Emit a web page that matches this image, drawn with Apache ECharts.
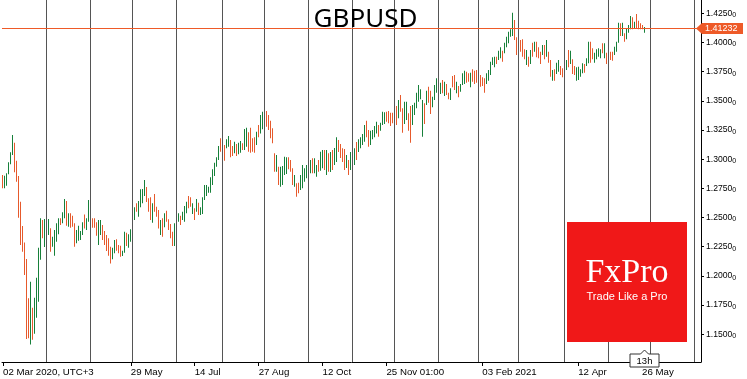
<!DOCTYPE html>
<html><head><meta charset="utf-8">
<script src="https://cdn.jsdelivr.net/npm/echarts@6/dist/echarts.min.js"></script>
<style>html,body{margin:0;padding:0;background:#fff}#c{width:747px;height:379px}</style>
</head><body><div id="c"></div>
<script>
// ---------------- DATA ----------------
const symbol = 'GBPUSD';
const firstDate = '2020-03-02';
const totalSlots = 350;               // trading-day slots incl. empty future space
const holidays = ['2020-12-25', '2021-01-01'];
const lastPrice = 1.41232;
const currentBarLabel = '13h';

const highs = [
1.2864,1.2858,1.2879,1.2973,1.3059,1.3207,1.3141,1.2987,1.2856,1.2635,
1.2427,1.2287,1.2144,1.1808,1.1950,1.1727,1.1813,1.1984,1.2241,1.2493,
1.2479,1.2487,1.2462,1.2487,1.2408,1.2336,1.2393,1.2450,1.2493,1.2493,
1.2545,1.2659,1.2641,1.2536,1.2536,1.2516,1.2450,1.2393,1.2430,1.2384,
1.2459,1.2527,1.2493,1.2650,1.2607,1.2493,1.2493,1.2459,1.2479,1.2479,
1.2436,1.2384,1.2350,1.2322,1.2250,1.2241,1.2307,1.2313,1.2264,1.2258,
1.2215,1.2378,1.2370,1.2356,1.2399,1.2521,1.2587,1.2622,1.2641,1.2742,
1.2744,1.2821,1.2761,1.2665,1.2673,1.2622,1.2701,1.2593,1.2564,1.2479,
1.2493,1.2536,1.2558,1.2485,1.2444,1.2378,1.2450,1.2480,1.2536,1.2516,
1.2550,1.2599,1.2635,1.2684,1.2673,1.2622,1.2579,1.2659,1.2627,1.2587,
1.2673,1.2779,1.2779,1.2764,1.2845,1.2913,1.2970,1.3016,1.3113,1.3179,
1.3121,1.3121,1.3170,1.3198,1.3164,1.3113,1.3150,1.3130,1.3141,1.3156,
1.3136,1.3259,1.3270,1.3230,1.3270,1.3179,1.3187,1.3235,1.3293,1.3378,
1.3407,1.3490,1.3413,1.3378,1.3330,1.3264,1.3050,1.3036,1.2935,1.2935,
1.2941,1.3021,1.3016,1.3016,1.2993,1.2922,1.2864,1.2793,1.2798,1.2864,
1.2950,1.2922,1.2950,1.2980,1.2993,1.3007,1.3007,1.2950,1.2993,1.3064,
1.3079,1.3079,1.3079,1.3050,1.3061,1.3079,1.3096,1.3187,1.3164,1.3130,
1.3093,1.3087,1.3036,1.2993,1.3061,1.2970,1.3093,1.3147,1.3170,1.3187,
1.3216,1.3293,1.3330,1.3250,1.3244,1.3250,1.3284,1.3321,1.3293,1.3313,
1.3407,1.3402,1.3407,1.3413,1.3398,1.3398,1.3440,1.3456,1.3507,1.3550,
1.3436,1.3493,1.3493,1.3393,1.3456,1.3464,1.3484,1.3570,1.3636,1.3599,
1.3507,1.3479,1.3587,1.3621,1.3587,1.3535,1.3636,1.3693,1.3713,1.3655,
1.3678,1.3664,1.3644,1.3570,1.3607,1.3713,1.3721,1.3664,1.3627,1.3644,
1.3736,1.3758,1.3750,1.3736,1.3741,1.3770,1.3758,1.3764,1.3747,1.3721,
1.3701,1.3693,1.3736,1.3764,1.3835,1.3873,1.3878,1.3878,1.3930,1.3959,
1.3930,1.3998,1.4050,1.4092,1.4113,1.4255,1.4193,1.4044,1.3990,1.4021,
1.4027,1.3941,1.3936,1.3878,1.3936,1.3998,1.4007,1.4007,1.3959,1.3921,
1.3978,1.3978,1.4021,1.3921,1.3850,1.3764,1.3770,1.3827,1.3850,1.3798,
1.3779,1.3827,1.3850,1.3936,1.3930,1.3856,1.3798,1.3787,1.3792,1.3770,
1.3821,1.3816,1.3864,1.4007,1.4007,1.3950,1.3912,1.3941,1.3950,1.3941,
1.3993,1.3993,1.3912,1.3950,1.3921,1.3921,1.3964,1.4007,1.4170,1.4164,
1.4170,1.4079,1.4121,1.4150,1.4227,1.4216,1.4178,1.4244,1.4187,1.4164,
1.4150,1.4133];

const lows = [
1.2750,1.2750,1.2773,1.2870,1.2956,1.3036,1.2887,1.2807,1.2498,1.2264,
1.2207,1.2007,1.1459,1.1465,1.1413,1.1453,1.1504,1.1641,1.1779,1.2138,
1.2322,1.2247,1.2307,1.2350,1.2207,1.2250,1.2173,1.2293,1.2356,1.2436,
1.2450,1.2493,1.2430,1.2421,1.2413,1.2421,1.2250,1.2279,1.2301,1.2307,
1.2350,1.2407,1.2393,1.2464,1.2413,1.2413,1.2413,1.2344,1.2264,1.2350,
1.2307,1.2264,1.2213,1.2173,1.2107,1.2142,1.2193,1.2215,1.2193,1.2164,
1.2170,1.2198,1.2256,1.2241,1.2293,1.2376,1.2479,1.2550,1.2507,1.2587,
1.2622,1.2684,1.2633,1.2550,1.2479,1.2456,1.2550,1.2507,1.2407,1.2350,
1.2336,1.2416,1.2464,1.2393,1.2322,1.2256,1.2256,1.2370,1.2464,1.2436,
1.2479,1.2464,1.2536,1.2579,1.2593,1.2530,1.2479,1.2550,1.2522,1.2522,
1.2530,1.2650,1.2684,1.2713,1.2713,1.2779,1.2856,1.2935,1.2993,1.3064,
1.3007,1.2987,1.3093,1.3107,1.3016,1.3027,1.3050,1.3027,1.3042,1.3056,
1.3079,1.3079,1.3107,1.3064,1.3056,1.3064,1.3056,1.3121,1.3187,1.3221,
1.3256,1.3370,1.3278,1.3250,1.3179,1.3136,1.2893,1.2893,1.2779,1.2764,
1.2779,1.2864,1.2873,1.2913,1.2893,1.2779,1.2764,1.2678,1.2707,1.2736,
1.2750,1.2807,1.2836,1.2840,1.2879,1.2879,1.2879,1.2850,1.2893,1.2901,
1.2922,1.2907,1.2864,1.2893,1.2890,1.2907,1.2950,1.2976,1.3061,1.3010,
1.2976,1.2907,1.2924,1.2864,1.2907,1.2855,1.2950,1.2993,1.3061,1.3093,
1.3121,1.3150,1.3187,1.3107,1.3121,1.3170,1.3187,1.3221,1.3193,1.3244,
1.3293,1.3301,1.3321,1.3307,1.3284,1.3307,1.3290,1.3293,1.3350,1.3407,
1.3227,1.3301,1.3336,1.3244,1.3141,1.3293,1.3378,1.3436,1.3493,1.3513,
1.3193,1.3301,1.3464,1.3484,1.3387,1.3444,1.3507,1.3570,1.3564,1.3558,
1.3564,1.3541,1.3550,1.3513,1.3507,1.3616,1.3593,1.3564,1.3530,1.3578,
1.3636,1.3644,1.3655,1.3664,1.3616,1.3664,1.3644,1.3655,1.3636,1.3621,
1.3627,1.3570,1.3644,1.3672,1.3721,1.3807,1.3787,1.3816,1.3850,1.3864,
1.3835,1.3907,1.3959,1.3993,1.4050,1.4055,1.4021,1.3893,1.3890,1.3921,
1.3878,1.3856,1.3807,1.3792,1.3816,1.3878,1.3921,1.3873,1.3864,1.3816,
1.3893,1.3856,1.3878,1.3827,1.3707,1.3672,1.3672,1.3730,1.3750,1.3721,
1.3701,1.3730,1.3764,1.3787,1.3816,1.3730,1.3721,1.3672,1.3678,1.3707,
1.3736,1.3741,1.3798,1.3821,1.3827,1.3856,1.3827,1.3856,1.3878,1.3864,
1.3907,1.3864,1.3816,1.3840,1.3850,1.3844,1.3893,1.3921,1.3998,1.4055,
1.4055,1.4007,1.4027,1.4084,1.4113,1.4113,1.4121,1.4121,1.4113,1.4113,
1.4113,1.4084];

// U = bullish bar, D = bearish bar
const barDirection = (
'DUUUUUDDDD'+'DDDDUDUUUU'+'DUDUDUUUUD'+'UUDUDDDUUU'+'UDUUDDDDUU'+
'DDDDDUUDDD'+'UUDUUUUDUU'+'UUDDDUDDDU'+'DUDDDDUUUD'+'UUUDDUDUDU'+
'UUUUUUUUUD'+'UDUUDDUDUU'+'DUUDDDDUDU'+'UUDDDDDUDU'+'UUUDDDUDDU'+
'UUUUUDUUDU'+'UDUDUDUUDD'+'DDUDUDUDUU'+'UUDDUUUUDU'+'UUDDDDUDUD'+
'DUUDDUUUUU'+'UDUDDUUUDU'+'DUDDUDDUDU'+'UUDDUDDDUD'+'DDUUUUUDUU'+
'DUUUUUDDUD'+'DDUDUDUDDD'+'UDUDDUDUUD'+'DUUDUDDUUU'+'UDUUDDUUUU'+
'DUDUDDUUUD'+'UDUUUDUDDD'+'DU').split('');

const yTickValues = [1.15,1.175,1.2,1.225,1.25,1.275,1.3,1.325,1.35,1.375,1.4,1.425];
const xTickLabels = [
  ['2020-03-02','02 Mar 2020, UTC+3'], ['2020-05-29','29 May'], ['2020-07-14','14 Jul'],
  ['2020-08-27','27 Aug'], ['2020-10-12','12 Oct'], ['2020-11-25','25 Nov 01:00'],
  ['2021-02-03','03 Feb 2021'], ['2021-04-12','12 Apr'], ['2021-05-26','26 May']];

// ---------------- BUILD ----------------
function tradingDays(start, count, skip) {
  const out = []; const d = new Date(start + 'T00:00:00Z');
  while (out.length < count) {
    const iso = d.toISOString().slice(0, 10); const wd = d.getUTCDay();
    if (wd !== 0 && wd !== 6 && skip.indexOf(iso) < 0) out.push(iso);
    d.setUTCDate(d.getUTCDate() + 1);
  }
  return out;
}
const categories = tradingDays(firstDate, totalSlots, holidays);
const labelMap = {}; xTickLabels.forEach(p => labelMap[p[0]] = p[1]);
const monthStarts = [];
for (let i = 1; i < categories.length; i++) {
  if (categories[i].slice(0, 7) !== categories[i - 1].slice(0, 7)) monthStarts.push([i]);
}
const barData = highs.map((h, i) => [i, h, lows[i], barDirection[i] === 'U' ? 1 : 0]);

const UP = '#17803a', DOWN = '#e65a2c', GRIDC = '#555555', PRICE = '#ee5a28';
const FONT = '"Liberation Sans", Arial, sans-serif';

const chart = echarts.init(document.getElementById('c'), null, {renderer: 'canvas'});
chart.setOption({
  animation: false,
  backgroundColor: '#ffffff',
  grid: {left: 0, right: 46, top: 0, bottom: 17, containLabel: false},
  xAxis: {
    type: 'category', data: categories, boundaryGap: true,
    axisLine: {show: true, lineStyle: {color: '#000', width: 1}},
    axisTick: {show: true, alignWithLabel: true, length: 4, interval: (i, v) => v in labelMap, lineStyle: {color: '#000'}},
    axisLabel: {show: true, interval: (i, v) => v in labelMap, formatter: v => labelMap[v] || '',
      align: 'left', margin: 5, color: '#000', fontSize: 9.7, fontFamily: FONT},
    splitLine: {show: false}
  },
  yAxis: {
    type: 'value', position: 'right', min: 1.1262, max: 1.4364,
    axisLine: {show: true, onZero: false, lineStyle: {color: '#000', width: 1}},
    axisTick: {show: true, length: 3, customValues: yTickValues, lineStyle: {color: '#000'}},
    axisLabel: {show: true, customValues: yTickValues, margin: 5, color: '#000',
      formatter: v => '{a|' + v.toFixed(4) + '}{b|0}',
      rich: {a: {fontSize: 8.6, fontFamily: FONT, color: '#000'},
             b: {fontSize: 7, fontFamily: FONT, color: '#000', padding: [4, 0, 0, 0]}}},
    splitLine: {show: false}
  },
  series: [
    {
      type: 'custom', name: 'bars', z: 2, data: barData,
      encode: {x: 0, y: [1, 2]},
      renderItem(params, api) {
        const i = api.value(0);
        const hi = api.coord([i, api.value(1)]);
        const lo = api.coord([i, api.value(2)]);
        return {type: 'rect', shape: {x: Math.floor(hi[0]), y: hi[1], width: 1, height: Math.max(1, lo[1] - hi[1])},
          style: {fill: api.value(3) === 1 ? UP : DOWN}};
      }
    },
    {
      type: 'custom', name: 'monthGrid', z: 3, data: monthStarts, silent: true,
      encode: {x: 0},
      renderItem(params, api) {
        const cs = params.coordSys;
        const p = api.coord([api.value(0), 1.3]);
        const x = Math.floor(p[0]) + 0.5;
        return {type: 'line', shape: {x1: x, y1: cs.y, x2: x, y2: cs.y + cs.height},
          style: {stroke: GRIDC, lineWidth: 1}};
      }
    },
    {
      type: 'custom', name: 'priceLine', z: 4, data: [[0, lastPrice]], silent: true,
      encode: {x: 0, y: 1},
      renderItem(params, api) {
        const cs = params.coordSys;
        const p = api.coord([0, api.value(1)]);
        const y = Math.floor(p[1]) + 0.5;
        return {type: 'line', shape: {x1: cs.x, y1: y, x2: cs.x + cs.width, y2: y},
          style: {stroke: PRICE, lineWidth: 1}};
      }
    }
  ]
});

// annotations positioned from the axes
const py = Math.floor(chart.convertToPixel({yAxisIndex: 0}, lastPrice)) + 0.5;
const lx = Math.floor(chart.convertToPixel({xAxisIndex: 0}, highs.length - 1)) + 0.5;
chart.setOption({
  graphic: [
    {type: 'text', z: 50, x: 365.5, y: 19.5,
      style: {text: symbol, fill: '#000', fontSize: 26, fontFamily: '"Noto Sans", "Open Sans", sans-serif',
        align: 'center', verticalAlign: 'middle'}},
    {type: 'polygon', z: 60, shape: {points: [[696, py], [702, py - 5.5], [743, py - 5.5], [743, py + 5.5], [702, py + 5.5]]},
      style: {fill: PRICE}},
    {type: 'text', z: 61, x: 705, y: py,
      style: {text: lastPrice.toFixed(5), fill: '#fff', fontSize: 9, fontFamily: FONT, verticalAlign: 'middle', align: 'left'}},
    {type: 'rect', z: 70, shape: {x: 567, y: 222, width: 120, height: 120}, style: {fill: '#f01818'}},
    {type: 'text', z: 71, x: 627, y: 273,
      style: {text: 'FxPro', fill: '#fff', fontSize: 34, fontFamily: '"Liberation Serif", "DejaVu Serif", serif',
        align: 'center', verticalAlign: 'middle'}},
    {type: 'text', z: 71, x: 627, y: 297,
      style: {text: 'Trade Like a Pro', fill: '#fff', fontSize: 11, fontFamily: FONT, align: 'center', verticalAlign: 'middle'}},
    {type: 'polygon', z: 80, shape: {points: [[lx, 350], [lx + 4, 354], [lx + 14.5, 354], [lx + 14.5, 367], [lx - 14.5, 367], [lx - 14.5, 354], [lx - 4, 354]]},
      style: {fill: '#fff', stroke: '#333', lineWidth: 1}},
    {type: 'text', z: 81, x: lx, y: 361,
      style: {text: currentBarLabel, fill: '#000', fontSize: 9.5, fontFamily: FONT, align: 'center', verticalAlign: 'middle'}}
  ]
});
</script>
</body></html>
